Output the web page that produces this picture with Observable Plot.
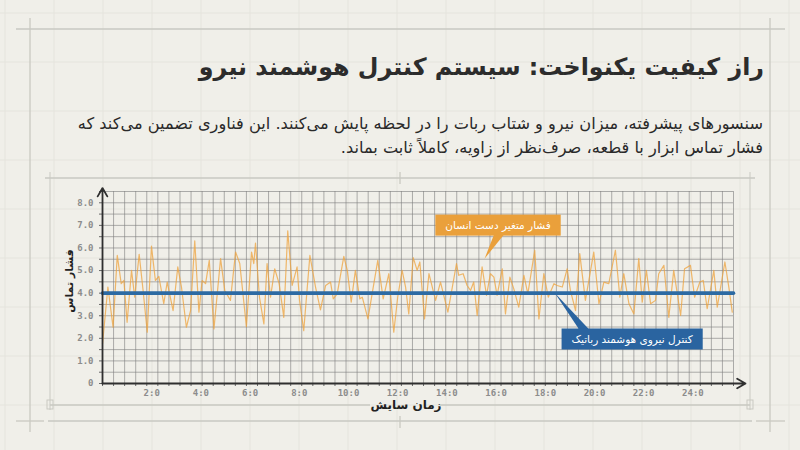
<!DOCTYPE html>
<html>
<head>
<meta charset="utf-8">
<script src="https://cdn.jsdelivr.net/npm/d3@7"></script>
<script src="https://cdn.jsdelivr.net/npm/@observablehq/plot@0.6"></script>
<style>
  html, body { margin: 0; padding: 0; background: #f0efe9; }
  #page { position: relative; width: 800px; height: 450px; overflow: hidden; background: #f0efe9; }
  #bg { position: absolute; left: 0; top: 0; }
  #title { position: absolute; right: 36px; top: 53px; margin: 0; font: 600 23.8px "DejaVu Sans", sans-serif; color: #2c2c2c; direction: rtl; white-space: nowrap; }
  #subtitle { position: absolute; right: 37px; top: 112px; margin: 0; font: 16.2px/24px "DejaVu Sans", sans-serif; color: #2a2a2a; direction: rtl; text-align: right; white-space: nowrap; }
  #chart { position: absolute; left: 0; top: 170px; }
</style>
</head>
<body>
<div id="page">
  <svg id="bg" width="800" height="450"></svg>
  <h1 id="title">راز کیفیت یکنواخت: سیستم کنترل هوشمند نیرو</h1>
  <p id="subtitle">سنسورهای پیشرفته، میزان نیرو و شتاب ربات را در لحظه پایش می‌کنند. این فناوری تضمین می‌کند که<br>فشار تماس ابزار با قطعه، صرف‌نظر از زاویه، کاملاً ثابت بماند.</p>
  <div id="chart"></div>
</div>
<script>
// ---------- data ----------
const humanTime = [
  0, 0.22, 0.43, 0.60, 0.76, 0.87, 1.00, 1.18, 1.31, 1.49,
  1.65, 1.82, 1.99, 2.15, 2.29, 2.49, 2.63, 2.87, 3.06, 3.21,
  3.41, 3.58, 3.75, 3.92, 4.05, 4.19, 4.34, 4.53, 4.80, 4.97,
  5.20, 5.41, 5.58, 5.85, 6.06, 6.15, 6.22, 6.38, 6.56, 6.69,
  6.83, 7.00, 7.18, 7.37, 7.53, 7.71, 7.91, 8.01, 8.18, 8.43,
  8.66, 8.86, 9.07, 9.27,
  9.38, 9.54, 9.81, 9.95, 10.11, 10.28, 10.46, 10.56, 10.79, 10.96,
  11.19, 11.41, 11.64, 11.84, 12.00, 12.18, 12.32, 12.45, 12.63, 12.79,
  12.90, 13.09, 13.27, 13.54, 13.74, 14.04, 14.39, 14.48, 14.66, 14.82,
  14.96, 15.09, 15.23, 15.43, 15.61, 15.77, 15.91, 16.04, 16.25, 16.38,
  16.56, 16.72, 16.92, 17.13, 17.29, 17.57, 17.74, 17.94, 18.12,
  18.35, 18.48, 18.69, 18.89, 19.02, 19.23, 19.40, 19.63, 19.97, 20.18,
  20.38, 20.58, 20.85, 21.03, 21.19, 21.40, 21.60, 21.80, 21.94, 22.11,
  22.28, 22.48, 22.61, 22.82, 23.02, 23.22, 23.50, 23.66, 23.90, 24.07,
  24.28, 24.42, 24.58, 24.85, 24.99, 25.30, 25.46, 25.60
];
const humanPressure = [
  1.75, 4.27, 2.49, 5.67, 4.42, 4.56, 2.71, 5.01, 3.82, 5.72,
  4.12, 2.27, 6.08, 4.56, 4.74, 3.53, 4.49, 3.23, 5.16, 4.27,
  2.49, 3.23, 6.31, 3.16, 4.56, 4.42, 5.45, 2.42, 5.53, 4.12,
  3.68, 5.82, 5.31, 2.52, 5.82, 5.31, 6.22, 3.82, 2.64, 5.31,
  3.82, 5.08, 4.42, 2.93, 6.76, 4.34, 5.16, 3.68, 2.34, 5.67,
  4.27, 3.26, 4.34, 4.49,
  3.75, 3.97, 5.63, 5.01, 3.60, 5.01, 3.75, 3.82, 2.86, 3.97,
  5.45, 3.75, 4.86, 2.27, 3.82, 5.01, 4.27, 3.08, 5.57, 5.01,
  5.38, 2.86, 4.86, 3.68, 4.49, 3.16, 5.31, 4.79, 4.86, 4.34,
  4.12, 4.49, 3.01, 5.16, 3.90, 4.86, 4.71, 3.90, 5.08, 3.08,
  4.71, 4.19, 3.38, 4.79, 3.97, 5.90, 2.86, 4.86, 3.82,
  4.42, 4.34, 4.27, 5.08, 4.12, 3.23, 5.75, 3.68, 5.82, 3.53,
  4.49, 4.42, 5.90, 3.82, 4.86, 3.53, 3.08, 5.53, 3.60, 5.01,
  3.53, 3.68, 4.86, 5.23, 2.93, 5.01, 3.01, 5.08, 5.23, 3.82,
  4.49, 4.56, 3.31, 5.01, 3.38, 5.38, 4.27, 3.16
];
const robotTime = [0, 25.65];
const robotPressure = [4.0, 4.0];

const yTickValues = [0, 1, 2, 3, 4, 5, 6, 7, 8];
const xTickValues = [2, 4, 6, 8, 10, 12, 14, 16, 18, 20, 22, 24];

const titleY = "فشار تماس";
const titleX = "زمان سایش";
const labelHuman = "فشار متغیر دست انسان";
const labelRobot = "کنترل نیروی هوشمند رباتیک";
// annotation anchors (time, pressure) on the series
const anchorHuman = {t: 15.55, v: 5.5};
const anchorRobot = {t: 18.4, v: 4.0};

// ---------- derived tables ----------
const human = humanTime.map((t, i) => ({t, v: humanPressure[i]}));
const robot = robotTime.map((t, i) => ({t, v: robotPressure[i]}));
const xMax = 25.65, yMax = 8.5;
const xGrid = d3.range(0, 57.5).map(i => +(i * 0.45).toFixed(3));
const yGrid = d3.range(0, 17.5).map(i => i * 0.5);

const gridColor = "#808080";
const orange = "#eea33e";
const blue = "#2c6aa3";

const chart = Plot.plot({
  width: 800,
  height: 250,
  marginTop: 21,
  marginBottom: 37,
  marginLeft: 102,
  marginRight: 67,
  style: {background: "transparent", fontFamily: "'DejaVu Sans Mono', monospace", fontSize: "9px", color: "#8c8c8c"},
  x: {domain: [0, xMax]},
  y: {domain: [0, yMax]},
  marks: [
    Plot.gridX(xGrid, {stroke: gridColor, strokeOpacity: 0.62, strokeWidth: 1}),
    Plot.gridY(yGrid, {stroke: gridColor, strokeOpacity: 0.62, strokeWidth: 1}),
    Plot.axisX(xGrid, {tickSize: 3, tickFormat: () => "", stroke: "#666"}),
    Plot.axisX(xTickValues, {tickSize: 0, tickPadding: 6, tickFormat: d => `${d}:0`, fill: "#8c8c8c", fontWeight: "bold", label: null}),
    Plot.axisY(yGrid, {tickSize: 3, tickFormat: () => "", stroke: "#666"}),
    Plot.axisY(yTickValues, {tickSize: 0, tickPadding: 9, tickFormat: d => d === 0 ? "0" : d.toFixed(1), fill: "#8c8c8c", fontWeight: "bold", label: null}),
    Plot.line(human, {x: "t", y: "v", stroke: orange, strokeWidth: 1.2, strokeOpacity: 0.75}),
    Plot.line(robot, {x: "t", y: "v", stroke: blue, strokeWidth: 3.6}),
    Plot.arrow([{x1: 0, y1: 0, x2: xMax * 1.019, y2: 0}, {x1: 0, y1: 0, x2: 0, y2: yMax * 1.018}],
      {x1: "x1", y1: "y1", x2: "x2", y2: "y2", stroke: "#2f2f2f", strokeWidth: 1.8, headLength: 8, clip: false}),
    Plot.text([titleX], {text: d => d, frameAnchor: "bottom", dx: -12, dy: 25,
      fontFamily: "'DejaVu Sans', sans-serif", fontSize: 12, fontWeight: "bold", fill: "#222"}),
    Plot.text([anchorHuman], {x: "t", y: "v", text: () => labelHuman, dx: 13, dy: -34,
      fontFamily: "'DejaVu Sans', sans-serif", fontSize: 10.5, fill: "white"}),
    Plot.text([anchorRobot], {x: "t", y: "v", text: () => labelRobot, dx: 77, dy: 46,
      fontFamily: "'DejaVu Sans', sans-serif", fontSize: 10.5, fill: "white"})
  ]
});
document.getElementById("chart").appendChild(chart);

// ---------- annotation boxes & pointers ----------
const svg = d3.select(chart);
const sx = chart.scale("x"), sy = chart.scale("y");
const NS = "http://www.w3.org/2000/svg";
function decorate(label, anchor, color, side, shift) {
  const txt = svg.selectAll("text").filter(function () { return this.textContent === label; });
  if (txt.empty()) return;
  const node = txt.node();
  const bb = node.getBBox();
  const padX = 10, padY = 4;
  const bx = bb.x - padX, by = bb.y - padY, bw = bb.width + 2 * padX, bh = bb.height + 2 * padY;
  const root = chart.tagName.toLowerCase() === "svg" ? chart : chart.querySelector("svg");
  const pt = root.createSVGPoint();
  pt.x = sx.apply(anchor.t); pt.y = sy.apply(anchor.v);
  const local = pt.matrixTransform(node.getCTM().inverse());
  const cx = bx + bw / 2 + shift;
  const edgeY = side === "below" ? by + bh - 1 : by + 1;
  const wedge = d3.path();
  wedge.moveTo(cx - 5, edgeY);
  wedge.lineTo(local.x, local.y);
  wedge.lineTo(cx + 5, edgeY);
  wedge.closePath();
  const tf = node.getAttribute("transform") || "";
  const p = document.createElementNS(NS, "path");
  p.setAttribute("d", wedge.toString()); p.setAttribute("fill", color); p.setAttribute("transform", tf);
  const r = document.createElementNS(NS, "rect");
  r.setAttribute("x", bx); r.setAttribute("y", by); r.setAttribute("width", bw); r.setAttribute("height", bh);
  r.setAttribute("fill", color); r.setAttribute("transform", tf);
  node.parentNode.insertBefore(p, node);
  node.parentNode.insertBefore(r, node);
}
decorate(labelHuman, anchorHuman, "#eaa03b", "below", 1);
decorate(labelRobot, anchorRobot, "#2a64a0", "above", -48);

// ---------- page frame decoration ----------
const bg = d3.select("#bg");
const faint = "#e5e4dd";
for (let x = 5; x < 800; x += 49) bg.append("line").attr("x1", x).attr("x2", x).attr("y1", 0).attr("y2", 450).attr("stroke", faint);
for (let y = 13; y < 450; y += 49) bg.append("line").attr("y1", y).attr("y2", y).attr("x1", 0).attr("x2", 800).attr("stroke", faint);
const fr = "#c9c9c2";
const L = (x1, y1, x2, y2, w = 1.3) => bg.append("line").attr("x1", x1).attr("y1", y1).attr("x2", x2).attr("y2", y2).attr("stroke", fr).attr("stroke-width", w);
L(16, 29, 785, 29); L(30, 18, 30, 432); L(770, 18, 770, 432);
L(16, 421, 44, 421); L(48, 421, 752, 421); L(756, 421, 785, 421); L(400, 416, 400, 428);
L(45, 178, 755, 178); L(50, 172, 50, 410, 1); L(750, 172, 750, 410, 1); L(400, 172, 400, 184);
L(50, 405, 370, 405); L(440, 405, 750, 405);
bg.append("rect").attr("x", 47).attr("y", 400).attr("width", 6).attr("height", 9).attr("fill", "none").attr("stroke", fr);
bg.append("rect").attr("x", 747).attr("y", 400).attr("width", 6).attr("height", 9).attr("fill", "none").attr("stroke", fr);
bg.append("text").attr("transform", "translate(69,281) rotate(-90)").attr("text-anchor", "middle").attr("dominant-baseline", "central")
  .attr("font-family", "'DejaVu Sans', sans-serif").attr("font-size", 11).attr("font-weight", "bold").attr("fill", "#222").text(titleY);
</script>
</body>
</html>
